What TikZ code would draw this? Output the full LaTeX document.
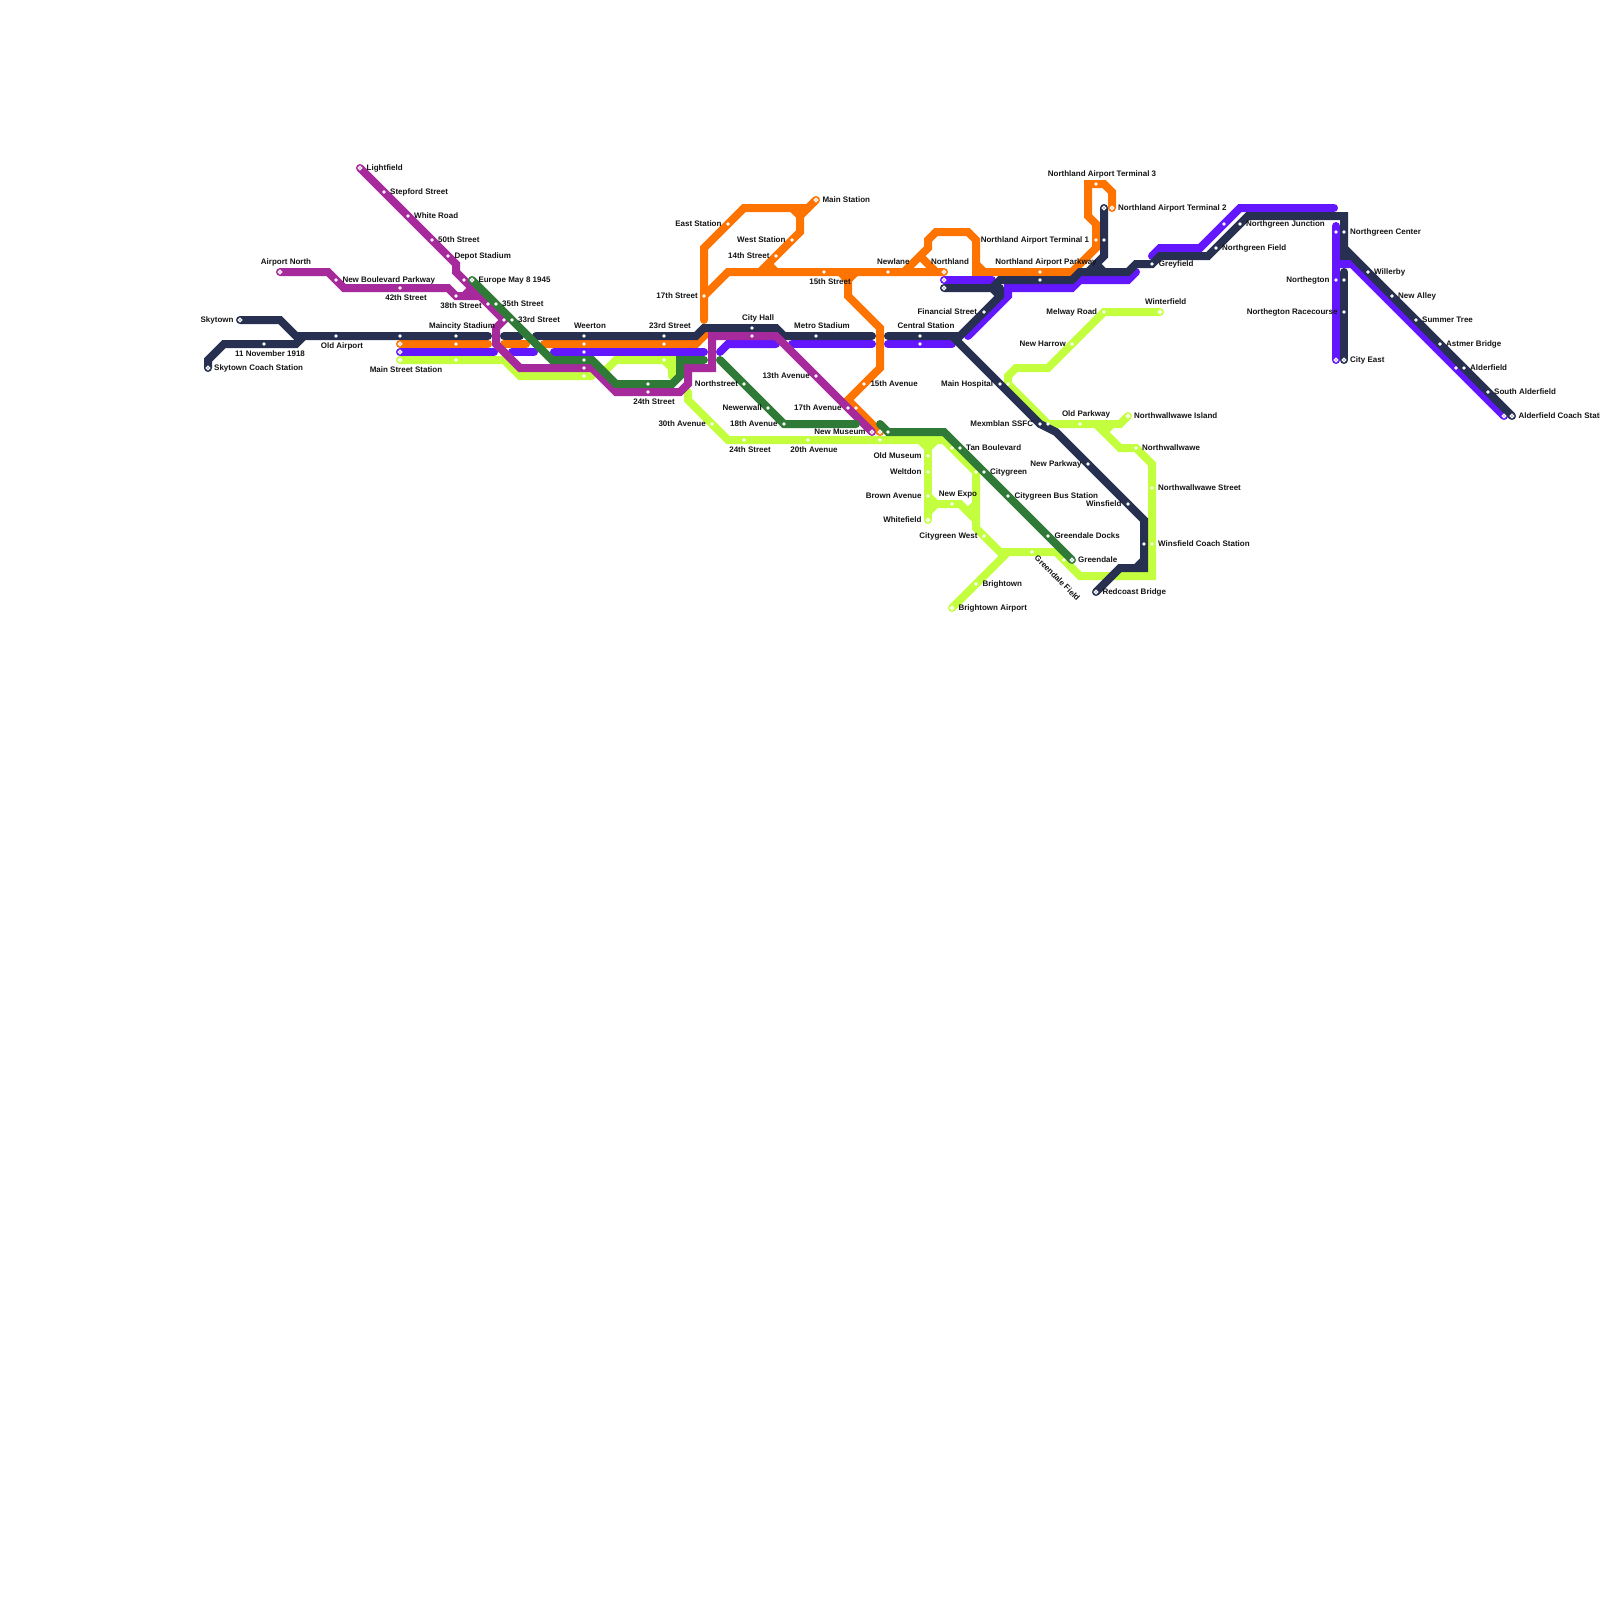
\documentclass[tikz,border=0pt]{standalone}
\usepackage{fontspec}
\setmainfont{Liberation Sans}
\definecolor{cnavy}{HTML}{273050}
\definecolor{cmag}{HTML}{A62A9C}
\definecolor{corg}{HTML}{FF7300}
\definecolor{cvio}{HTML}{6317FF}
\definecolor{clim}{HTML}{C3FF3E}
\definecolor{cgrn}{HTML}{2E7A36}
\tikzset{
 ln/.style={line width=8pt,line cap=round,line join=miter,miter limit=10},
 lnavy/.style={ln,draw=cnavy},
 lmag/.style={ln,draw=cmag},
 lorg/.style={ln,draw=corg},
 lvio/.style={ln,draw=cvio},
 llim/.style={ln,draw=clim},
 lgrn/.style={ln,draw=cgrn},
 stopdot/.style={circle,fill=white,inner sep=0pt,minimum size=3.9pt},
 termdot/.style={circle,draw=white,line width=1.3pt,fill=#1,inner sep=0pt,minimum size=3.6pt},
 lbl/.style={font=\fontsize{8}{9}\selectfont\bfseries,inner sep=0pt,text=black!92,yshift=-0.8pt},
 lw/.style={lbl,anchor=mid west},
 le/.style={lbl,anchor=mid east},
 lc/.style={lbl,anchor=mid},
}
\begin{document}
\begin{tikzpicture}[x=1pt,y=-1pt]
\useasboundingbox (0,0) rectangle (1600,1600);
% stations
\foreach \n/\x/\y in {
 nSky/240/320,nSkyC/208/368,nNov/264/344,nOld/336/336,nMain/400/336,nMaincity/456/336,nWeer/584/336,n23/664/336,nCity/752/328,nMetro/816/336,nCentral/920/336,nFin/984/312,nHosp/1000/384,nMex/1040/424,nNewP/1088/464,nWins/1128/504,nWinsC/1144/544,nRed/1096/592,nTop/1104/208,nT1/1104/240,nGrey/1152/264,nField/1216/248,nJunc/1240/224,nCenter/1344/232,nNgton/1344/280,nRace/1344/312,nEast/1344/360,nWill/1368/272,nAlley/1392/296,nTree/1416/320,nAst/1440/344,nAlder/1464/368,nSouth/1488/392,nCoach/1512/416,nNorth/944/288,nPark/1040/280,
 oMain/400/344,oMaincity/456/344,oWeer/584/344,o23/664/344,o17/704/296,oEast/728/224,oMainSt/816/200,oWest/792/240,o14/776/256,o15/824/272,oNew/888/272,oNorth/944/272,oAve/864/384,o17a/856/408,oMus/880/432,oPark/1040/272,oT1/1096/240,oT3/1096/184,oT2/1112/208,
 vMain/400/352,vWeer/584/352,vCentral/920/344,vNorth/944/280,vJunc/1224/224,vCenter/1336/232,vNgton/1336/280,vEast/1336/360,vAlder/1456/368,vCoach/1504/416,
 mLight/360/168,mStep/384/192,mWhite/408/216,m50/432/240,mDepot/448/256,mEur/464/280,m35/488/304,m33/504/320,mAir/280/272,mBlvd/336/280,m42/400/288,m38/456/296,mWeer/584/368,m24/648/392,mCity/752/336,m13/816/376,m17/848/408,mMus/872/432,
 gEur/472/280,g35/496/304,g33/512/320,gWeer/584/360,g24/648/384,gNorth/744/384,gNewer/768/408,g18/784/424,gMus/888/432,gTan/960/448,gCity/984/472,gBus/1008/496,gDocks/1048/536,gGreen/1072/560,
 lMain/400/360,lMaincity/456/360,lWeer/584/376,l23/664/360,l30/712/424,l24/744/440,l20/808/440,lOldM/880/440,lOld/928/456,lWelt/928/472,lBrown/928/496,lWhite/928/520,lExpo/952/504,lTan/952/448,lCity/976/472,lWest/984/536,lField/1032/552,lGreen/1064/560,lBright/976/584,lBAir/952/608,lHosp/1008/384,lHarrow/1072/344,lMel/1104/312,lWint/1160/312,lMex/1048/424,lPark/1080/424,lIsl/1128/416,lWall/1136/448,lStreet/1152/488,lCoach/1152/544}
 \coordinate (\n) at (\x,\y);
% lime
\draw[llim] (lMain) -- (lMaincity) -- (504,360) -- (520,376) -- (lWeer) -- (592,376);
\draw[llim] (600,376) -- (616,360) -- (l23) -- (672,360) -- (672,376);
\draw[llim] (l23) -- (672,368);
\draw[llim] (688,392) -- (688,400) -- (l30) -- (728,440) -- (l24) -- (l20) -- (lOldM) -- (944,440) -- (lTan) -- (lCity) -- (976,528) -- (lWest) -- (1000,552) -- (lField) -- (1056,552) -- (lGreen) -- (1080,576) -- (1152,576) -- (lCoach) -- (lStreet) -- (1152,464) -- (lWall) -- (1120,448) -- (1096,424);
\draw[llim] (lWint) -- (lMel) -- (lHarrow) -- (1048,368) -- (1016,368) -- (1008,376) -- (lHosp) -- (lMex) -- (lPark) -- (1120,424) -- (lIsl);
\draw[llim] (1104,432) -- (1112,424);
\draw[llim] (lWhite) -- (lBrown) -- (lWelt) -- (lOld) -- (928,448);
\draw[llim] (920,440) -- (928,448) -- (936,440);
\draw[llim] (lBrown) -- (936,504) -- (lExpo) -- (960,504) -- (976,520);
\draw[llim] (928,512) -- (936,504);
\draw[llim] (968,512) -- (976,504);
\draw[llim] (lBAir) -- (lBright) -- (1008,552);
% orange
\draw[lorg] (oMain) -- (oMaincity) -- (488,344);
\draw[lorg] (504,344) -- (526,344);
\draw[lorg] (544,344) -- (oWeer) -- (o23) -- (696,344) -- (704,336) -- (704,330);
\draw[lorg] (704,320) -- (o17) -- (704,248) -- (oEast) -- (744,208) -- (808,208) -- (oMainSt);
\draw[lorg] (792,208) -- (800,216) -- (800,232) -- (oWest) -- (o14) -- (760,272);
\draw[lorg] (808,208) -- (800,216);
\draw[lorg] (o17) -- (728,272) -- (o15) -- (oNew) -- (oNorth);
\draw[lorg] (768,264) -- (776,272);
\draw[lorg] (840,272) -- (848,280) -- (848,296) -- (880,328) -- (880,368) -- (oAve) -- (848,400) -- (o17a) -- (oMus);
\draw[lorg] (856,272) -- (848,280);
\draw[lorg] (904,272) -- (928,248) -- (928,240) -- (936,232) -- (968,232) -- (976,240) -- (976,272) -- (oPark) -- (1072,272) -- (1096,248) -- (oT1) -- (1096,224) -- (1088,216) -- (1088,184) -- (oT3) -- (1104,184) -- (1112,192) -- (oT2);
\draw[lorg] (976,264) -- (984,272);
\draw[lorg] (920,256) -- (936,272);
% violet
\draw[lvio] (vMain) -- (494,352);
\draw[lvio] (512,352) -- (534,352);
\draw[lvio] (554,352) -- (vWeer) -- (704,352);
\draw[lvio] (720,352) -- (728,344) -- (776,344);
\draw[lvio] (792,344) -- (872,344);
\draw[lvio] (888,344) -- (vCentral) -- (952,344);
\draw[lvio] (968,336) -- (1008,296) -- (1008,288) -- (1072,288) -- (1080,280) -- (1128,280) -- (1136,272);
\draw[lvio] (vNorth) -- (992,280);
\draw[lvio] (1152,256) -- (1160,248) -- (1200,248) -- (vJunc) -- (1240,208) -- (1334,208);
\draw[lvio] (1336,226) -- (vCenter) -- (vNgton) -- (vEast);
\draw[lvio] (1336,264) -- (1352,264) -- (vAlder) -- (vCoach);
% navy
\draw[lnavy] (nSky) -- (280,320) -- (296,336) -- (nOld) -- (nMain) -- (nMaincity) -- (488,336);
\draw[lnavy] (nSkyC) -- (208,360) -- (224,344) -- (nNov) -- (296,344) -- (304,336);
\draw[lnavy] (504,336) -- (520,336);
\draw[lnavy] (536,336) -- (nWeer) -- (n23) -- (696,336) -- (704,328) -- (nCity) -- (776,328) -- (784,336) -- (nMetro) -- (872,336);
\draw[lnavy] (888,336) -- (nCentral) -- (960,336) -- (nFin) -- (1000,296) -- (1000,288);
\draw[lnavy] (992,288) -- (1000,296);
\draw[lnavy] (nNorth) -- (992,288) -- (1000,280) -- (nPark) -- (1072,280) -- (1080,272) -- (1128,272) -- (1136,264) -- (nGrey) -- (1160,256) -- (1208,256) -- (nField) -- (nJunc) -- (1248,216) -- (1344,216) -- (nCenter) -- (1344,248) -- (nWill) -- (nAlley) -- (nTree) -- (nAst) -- (nAlder) -- (nSouth) -- (nCoach);
\draw[lnavy] (1344,248) -- (1344,256) -- (1352,256);
\draw[lnavy] (1344,272) -- (nNgton) -- (nRace) -- (nEast);
\draw[lnavy] (952,336) -- (nHosp) -- (nMex) -- (1056,432) -- (nNewP) -- (nWins) -- (1144,520) -- (nWinsC) -- (1144,568) -- (1120,568) -- (nRed);
\draw[lnavy] (1136,568) -- (1144,560);
\draw[lnavy] (nTop) -- (nT1) -- (1104,256) -- (1088,272);
\draw[lnavy] (1096,264) -- (1104,272);
% magenta
\draw[lmag] (mLight) -- (mStep) -- (mWhite) -- (m50) -- (mDepot) -- (456,264) -- (456,272) -- (mEur) -- (m35) -- (m33) -- (496,328) -- (496,344) -- (520,368) -- (mWeer) -- (592,368) -- (616,392) -- (m24) -- (680,392) -- (688,384) -- (688,368) -- (712,368) -- (712,336) -- (mCity) -- (776,336) -- (m13) -- (m17) -- (mMus);
\draw[lmag] (mAir) -- (328,272) -- (mBlvd) -- (344,288) -- (m42) -- (448,288) -- (m38) -- (478,296);
\draw[lmag] (464,296) -- (472,288);
% green
\draw[lgrn] (gEur) -- (g35) -- (g33) -- (552,360) -- (gWeer) -- (592,360) -- (616,384) -- (g24) -- (672,384) -- (680,376) -- (680,360) -- (704,360);
\draw[lgrn] (720,360) -- (gNorth) -- (gNewer) -- (g18) -- (856,424);
\draw[lgrn] (880,424) -- (gMus) -- (944,432) -- (gTan) -- (gCity) -- (gBus) -- (gDocks) -- (gGreen);
% stops
\foreach \s in {nNov,nOld,nMain,nMaincity,nWeer,n23,nCity,nMetro,nCentral,nFin,nHosp,nMex,nNewP,nWins,nWinsC,nT1,nGrey,nField,nJunc,nCenter,nNgton,nRace,nWill,nAlley,nTree,nAst,nAlder,nSouth,nPark,
 oMaincity,oWeer,o23,o17,oEast,oWest,o14,o15,oNew,oAve,o17a,oPark,oT1,oT3,
 vWeer,vCentral,vJunc,vCenter,vNgton,vAlder,
 mStep,mWhite,m50,mDepot,mEur,m35,m33,mBlvd,m42,m38,mWeer,m24,mCity,m13,m17,
 g35,g33,gWeer,g24,gNorth,gNewer,g18,gMus,gTan,gCity,gBus,gDocks,
 lMaincity,lWeer,l23,l30,l24,l20,lOldM,lOld,lWelt,lBrown,lExpo,lTan,lCity,lWest,lField,lGreen,lBright,lHosp,lHarrow,lMel,lMex,lPark,lWall,lStreet,lCoach}
 \node[stopdot] (d\s) at (\s) {};
\foreach \s/\c in {nSky/cnavy,nSkyC/cnavy,nRed/cnavy,nTop/cnavy,nEast/cnavy,nCoach/cnavy,nNorth/cnavy,oMain/corg,oMainSt/corg,oNorth/corg,oMus/corg,oT2/corg,vMain/cvio,vNorth/cvio,vEast/cvio,vCoach/cvio,mLight/cmag,mAir/cmag,mMus/cmag,gEur/cgrn,gGreen/cgrn,lMain/clim,lWhite/clim,lBAir/clim,lWint/clim,lIsl/clim}
 \node[termdot=\c] (t\s) at (\s) {};
% labels
\foreach \n/\x/\y/\t in {
 a1/366.5/167/Lightfield,a2/390/191/Stepford Street,a3/414/215/White Road,a4/438/239/50th Street,a5/454.3/255/Depot Stadium,a6/478.3/279/Europe May 8 1945,a7/502/303/35th Street,a8/518/319/33rd Street,a9/342.3/279/New Boulevard Parkway,a10/214/367/Skytown Coach Station,
 a11/822.3/199/Main Station,a12/870.3/383/15th Avenue,a13/966/447/Tan Boulevard,a14/990/471/Citygreen,a15/1014.3/495/Citygreen Bus Station,a16/1134/415/Northwallwawe Island,a17/1142/447/Northwallwawe,a18/1158/487/Northwallwawe Street,a19/1158/543/Winsfield Coach Station,a20/1054.3/535/Greendale Docks,a21/1078/559/Greendale,a22/982.3/583/Brightown,a23/958.3/607/Brightown Airport,a24/1102.3/591/Redcoast Bridge,a25/1118/207/Northland Airport Terminal 2,a26/1158.7/263/Greyfield,a27/1246/223/Northgreen Junction,a28/1222/247/Northgreen Field,a29/1350/231/Northgreen Center,a30/1350/359/City East,a31/1374/271/Willerby,a32/1398/295/New Alley,a33/1422/319/Summer Tree,a34/1446/343/Astmer Bridge,a35/1470/367/Alderfield,a36/1494/391/South Alderfield,a37/1518.3/415/Alderfield Coach Station}
 \node[lw] (\n) at (\x,\y) {\t};
\foreach \n/\x/\y/\t in {
 b1/233.7/319/Skytown,b2/482/305/38th Street,b3/738.3/383/Northstreet,b4/762/407/Newerwall,b5/777.7/423/18th Avenue,b6/706/423/30th Avenue,b7/698/295/17th Street,b8/810/375/13th Avenue,b9/721.7/223/East Station,b10/785.7/239/West Station,b11/769.7/255/14th Street,b12/841.7/407/17th Avenue,b13/865.7/431/New Museum,b14/921.7/455/Old Museum,b15/921.7/471/Weltdon,b16/921.7/495/Brown Avenue,b17/921.7/519/Whitefield,b18/977.7/535/Citygreen West,b19/993.3/383/Main Hospital,b20/1033.3/423/Mexmblan SSFC,b21/1066/343/New Harrow,b22/1097.3/311/Melway Road,b23/1081.7/463/New Parkway,b24/1121.7/503/Winsfield,b25/1089.3/239/Northland Airport Terminal 1,b26/977.3/311/Financial Street,b27/1329.7/279/Northegton,b28/1337.7/311/Northegton Racecourse}
 \node[le] (\n) at (\x,\y) {\t};
\foreach \n/\x/\y/\t in {
 c1/286/261/Airport North,c2/406/297/42th Street,c3/462/325/Maincity Stadium,c4/342/345/Old Airport,c5/270/353/11 November 1918,c6/406/369/Main Street Station,c7/590/325/Weerton,c8/670/325/23rd Street,c9/758/317/City Hall,c10/654/401/24th Street,c11/750/449/24th Street,c12/830/281/15th Street,c13/893.3/261/Newlane,c14/950/261/Northland,c15/822/325/Metro Stadium,c16/926/325/Central Station,c17/814/449/20th Avenue,c18/958/493/New Expo,c19/1165.7/301/Winterfield,c20/1086/413/Old Parkway,c21/1102/173/Northland Airport Terminal 3,c22/1046/261/Northland Airport Parkway}
 \node[lc] (\n) at (\x,\y) {\t};
\node[lc,rotate=-45] (c23) at (1057.3,577.3) {Greendale Field};
\end{tikzpicture}
\end{document}
